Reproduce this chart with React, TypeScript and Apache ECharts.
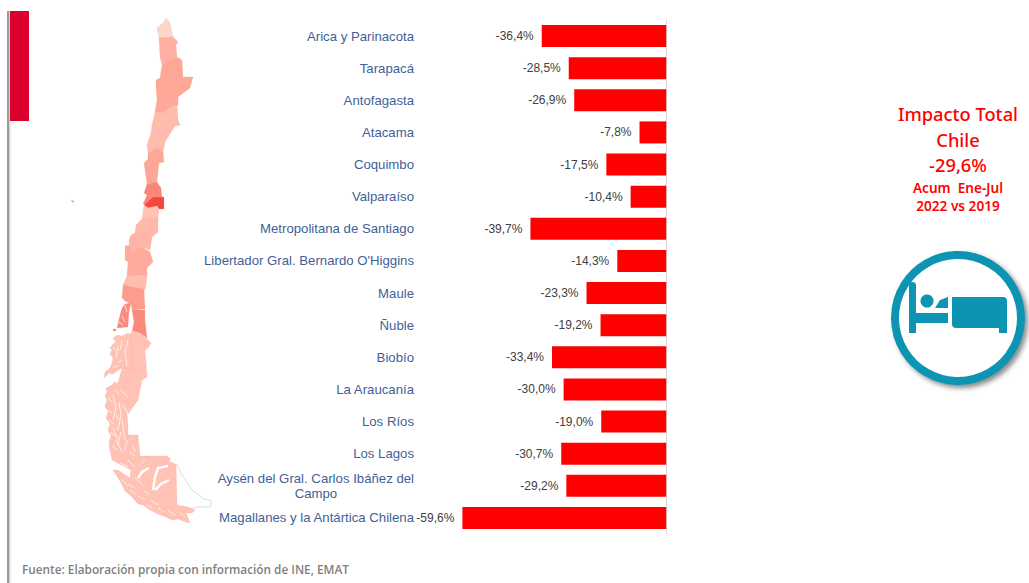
import React, { useEffect, useRef } from "react";
import * as echarts from "echarts";

const regions = [
  "Arica y Parinacota", "Tarapacá", "Antofagasta", "Atacama", "Coquimbo", "Valparaíso",
  "Metropolitana de Santiago", "Libertador Gral. Bernardo O'Higgins", "Maule", "Ñuble", "Biobío",
  "La Araucanía", "Los Ríos", "Los Lagos", "Aysén del Gral. Carlos Ibáñez del Campo",
  "Magallanes y la Antártica Chilena",
];
const impact = [-36.4, -28.5, -26.9, -7.8, -17.5, -10.4, -39.7, -14.3, -23.3, -19.2, -33.4, -30.0, -19.0, -30.7, -29.2, -59.6];
const footer = "Fuente: Elaboración propia con información de INE, EMAT";
const totalLines = ["Impacto Total", "Chile", "-29,6%"];
const periodLines = ["Acum  Ene-Jul", "2022 vs 2019"];

const LIGHT = "#ffc2b4";
const mapShapes: [string, string][] = [
  ["#fdd6ca", "157,28 163,23 166,18 170,23 173,37 159,38 158,33"],
  ["#ffb0a2", "159,38 173,37 178,42 176,45 177,57 170,60 162,65 160,57"],
  ["#ffa898", "162,65 170,60 177,57 182,60 183,77 193,77 190,88 178,97 178,105 170,107 163,113 155,112 157,100 156,87 156,80 160,78"],
  ["#ffbbac", "155,112 163,113 170,107 177,105 178,120 180,125 175,126 165,142 163,152 157,148 148,153 147,145 151,133 152,125"],
  ["#ffa797", "148,153 157,148 163,152 164,162 159,163 157,182 147,184 144,163 148,159"],
  ["#fb8577", "147,184 157,182 161,188 162,197 153,197 147,205 143,204 147,195 144,193"],
  ["#f4483b", "153,197 164,197 164,209 159,209 157,206 148,208 144,205"],
  ["#ffc4b6", "144,205 148,208 157,206 159,209 158,218 150,217 142,219"],
  ["#ffb8a9", "142,219 150,217 158,218 158,232 152,237 145,232 135,233 136,225"],
  ["#ffb5a6", "135,233 145,232 152,237 150,250 142,247 130,252 129,240 131,235"],
  ["#ffab9c", "125,246 130,245 130,252 142,247 150,252 153,262 147,268 147,275 127,276 128,262 125,260"],
  ["#ffbdae", "127,276 147,275 146,285 145,290 133,287 123,285"],
  ["#fd9c8c", "123,285 133,287 144,289 145,309 132,310 131,304 125,301 122,298"],
  ["#fb8a7c", "125,304 131,303 129,312 128,327 117,328 120,315 122,308"],
  ["#fb8a7c", "132,310 145,310 145,320 147,338 140,333 132,331 134,322"],
  ["#fb8a7c", "113,329 116,329 116,331 113,331"],
  ["#f8a090", "71,200 74,201 73,203"],
  [LIGHT, "131,332 140,333 146,338 151,343 148,348 145,350 147,377 142,380 138,400 128,414 125,401 127,388 118,383 122,368 128,368"],
  [LIGHT, "113,344 116,342 113,338 118,335 122,336 128,333 131,335 132,370 122,368 117,371 113,374 109,373 104,378 105,372 110,368 112,363 113,358 110,354 112,350 110,348"],
  [LIGHT, "107,392 106,388 112,385 114,382 118,383 127,388 125,401 127,415 128,435 130,450 125,460 117,456 113,460 110,450 109,442 111,436 108,430 110,424 106,418 108,412 105,406 107,400 105,396"],
  [LIGHT, "127,415 128,435 138,435 140,456 167,456 172,460 176,461 177,505 188,507 195,510 192,513 186,513 190,523 186,522 178,519 172,520 166,517 158,514 150,510 143,505 138,504 130,495 125,491 120,481 113,470 118,470 130,478 131,470 112,460 110,447"],
];
const wideChannels = [
  "138,478 142,472 149,468", "153,490 155,477 158,468 168,466", "155,490 161,484 169,480", "170,460 177,463",
];
const channels = [
  "128,340 125,352 127,366", "118,346 116,358", "122,340 120,350", "113,347 116,350", "118,362 122,360", "113,368 118,365",
  "120,390 128,397", "113,395 116,408 113,420", "119,402 121,415 118,430", "108,398 112,402", "107,410 112,413",
  "109,420 114,424", "110,432 116,436", "113,428 118,440", "122,420 125,440", "116,440 122,452", "128,440 124,450",
  "112,446 118,450", "115,390 119,395", "122,405 126,410", "116,414 119,420", "121,432 118,445",
  "135,467 128,460", "145,460 140,465", "128,484 135,488", "143,490 150,495", "135,478 142,484", "150,500 158,505",
  "120,463 128,467", "124,472 129,476", "122,480 128,486", "130,490 136,494", "138,496 145,500", "147,504 152,508",
  "158,508 164,512", "168,511 175,515", "180,513 185,517", "135,456 130,452", "133,445 135,452", "116,466 122,470",
  "125,305 127,312", "122,316 125,322", "119,322 123,325",
];
const fuegoOutline = "176,463 182,475 192,490 204,499 212,501 210,507 198,507 189,509";

const pts = (s: string) => s.split(" ").map((p) => p.split(",").map(Number));

const TEAL = "#0e94b3";

export default function App() {
  const ref = useRef<HTMLDivElement>(null);
  useEffect(() => {
    document.body.style.margin = "0";
    const chart = echarts.init(ref.current!, undefined, { renderer: "svg" });
    const graphic: any[] = [
      { type: "rect", shape: { x: 7, y: 11, width: 2.5, height: 572 }, style: { fill: "#9a9a9a" } },
      { type: "rect", shape: { x: 9.5, y: 11, width: 1, height: 572 }, style: { fill: "#dcdcdc" } },
      { type: "rect", shape: { x: 10, y: 11, width: 19, height: 110 }, style: { fill: "#dc002e" } },
      { type: "polyline", shape: { points: pts(fuegoOutline) }, style: { stroke: "#dddddd", lineWidth: 1, fill: "none" } },
      ...mapShapes.map(([fill, s]) => ({
        type: "polygon",
        shape: { points: pts(s) },
        style: { fill, stroke: "rgba(235,150,135,0.35)", lineWidth: 0.5 },
      })),
      ...wideChannels.map((s) => ({
        type: "polyline",
        shape: { points: pts(s) },
        style: { stroke: "#ffffff", lineWidth: 2.5, fill: "none" },
      })),
      ...channels.map((s) => ({
        type: "polyline",
        shape: { points: pts(s) },
        style: { stroke: "#ffffff", lineWidth: 1, opacity: 0.7, fill: "none" },
      })),
      ...totalLines.map((t, i) => ({
        type: "text",
        x: 958,
        y: [113.5, 139.5, 164][i],
        style: { text: t, fill: "#ff0000", align: "center", verticalAlign: "middle", font: '500 18.3px "Noto Sans"' },
      })),
      ...periodLines.map((t, i) => ({
        type: "text",
        x: 958,
        y: [187, 205][i],
        style: { text: t, fill: "#ff0000", align: "center", verticalAlign: "middle", font: '600 13.6px "Noto Sans"' },
      })),
      {
        type: "circle",
        shape: { cx: 958, cy: 318, r: 63 },
        style: { fill: "#ffffff", stroke: TEAL, lineWidth: 8, shadowBlur: 5, shadowOffsetX: 3, shadowOffsetY: 3, shadowColor: "rgba(60,60,60,0.6)" },
      },
      { type: "rect", shape: { x: 909, y: 282, width: 7, height: 51, r: [3.5, 3.5, 0, 0] }, style: { fill: TEAL } },
      { type: "rect", shape: { x: 916, y: 313, width: 32, height: 10 }, style: { fill: TEAL } },
      { type: "circle", shape: { cx: 927, cy: 301, r: 6.5 }, style: { fill: TEAL } },
      { type: "polygon", shape: { points: [[935, 308], [940, 300], [948, 297], [948, 308]] }, style: { fill: TEAL } },
      { type: "rect", shape: { x: 952, y: 297, width: 55, height: 31, r: [0, 4, 0, 4] }, style: { fill: TEAL } },
      { type: "rect", shape: { x: 999, y: 326, width: 8, height: 7 }, style: { fill: TEAL } },
      {
        type: "text",
        x: 22,
        y: 569,
        style: { text: footer, fill: "#7f7f7f", align: "left", verticalAlign: "middle", font: '600 11.8px "Open Sans"' },
      },
    ];
    chart.setOption({
      animation: false,
      backgroundColor: "#ffffff",
      grid: { left: 420, width: 246.2, top: 20, height: 514 },
      xAxis: { type: "value", min: -72, max: 0, show: false },
      yAxis: [
        {
          type: "category",
          inverse: true,
          data: regions,
          position: "left",
          axisLine: { show: false },
          axisTick: { show: false },
          axisLabel: {
            margin: 6,
            interval: 0,
            color: "#3f5f98",
            fontFamily: "Liberation Sans",
            fontSize: 13.2,
            align: "right",
            lineHeight: 15,
            formatter: (v: string) =>
              v.startsWith("Aysén") ? "{a|Aysén del Gral. Carlos Ibáñez del}\n{c|Campo}" : v,
            rich: {
              a: { color: "#3f5f98", fontFamily: "Liberation Sans", fontSize: 13.2, lineHeight: 15 },
              c: { color: "#3f5f98", fontFamily: "Liberation Sans", fontSize: 13.2, lineHeight: 15, align: "center" },
            },
          },
        },
        {
          type: "category",
          inverse: true,
          data: regions,
          position: "right",
          axisLine: { show: true, onZero: false, lineStyle: { color: "#d9d9d9", width: 1 } },
          axisTick: { show: false },
          axisLabel: { show: false },
        },
      ],
      series: [
        {
          type: "bar",
          data: impact,
          barWidth: 22,
          itemStyle: { color: "#ff0000" },
          label: {
            show: true,
            position: "left",
            distance: 8,
            color: "#404040",
            fontFamily: "Liberation Sans",
            fontSize: 12,
            formatter: (p: any) => p.value.toFixed(1).replace(".", ",") + "%",
          },
        },
      ],
      graphic: { elements: graphic },
    });
    return () => chart.dispose();
  }, []);
  return <div ref={ref} style={{ width: 1029, height: 583 }} />;
}
